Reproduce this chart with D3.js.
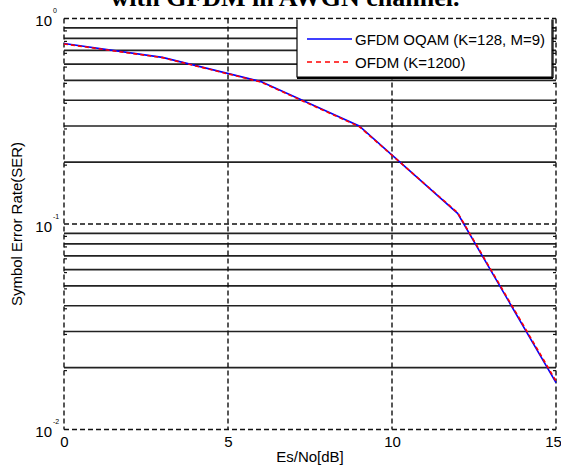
<!DOCTYPE html>
<html>
<head>
<meta charset="utf-8">
<script src="https://cdn.jsdelivr.net/npm/d3@7/dist/d3.min.js"></script>
<style>
  html, body { margin: 0; padding: 0; background: #fff; }
  svg { display: block; }
  text { font-family: "Liberation Sans", Arial, sans-serif; fill: #000; }
</style>
</head>
<body>
<svg id="chart" width="561" height="468"></svg>
<script>
// SNR points (dB) and symbol error rates for both schemes
const snrDb = [0, 3, 6, 9, 12, 15];
const serGfdm = [0.755, 0.647, 0.493, 0.300, 0.1127, 0.0169];
const serOfdm = [0.752, 0.645, 0.491, 0.298, 0.1135, 0.0172];
const seriesNames = ["GFDM OQAM (K=128, M=9)", "OFDM (K=1200)"];
const xTickValues = [0, 5, 10, 15];
const yDecades = [1, 0.1, 0.01];
const yDecadeExponents = ["0", "-1", "-2"];
const yMinorValues = [0.02, 0.03, 0.04, 0.05, 0.06, 0.07, 0.08, 0.09,
                      0.2, 0.3, 0.4, 0.5, 0.6, 0.7, 0.8, 0.9];

const svg = d3.select("#chart");
const plotLeft = 64, plotRight = 556, plotTop = 18.5, plotBottom = 429.5;

const x = d3.scaleLinear().domain([0, 15]).range([plotLeft, plotRight]);
const y = d3.scaleLog().domain([0.01, 1]).range([plotBottom, plotTop]);

const gridColor = "#111";
const dash = "5,3";

// title line (runs off the top edge of the canvas)
svg.append("text")
  .attr("x", 285).attr("y", 6)
  .attr("text-anchor", "middle")
  .style("font-family", "'Liberation Serif', 'Times New Roman', serif")
  .style("font-weight", "bold")
  .style("font-size", "26px")
  .text("with GFDM in AWGN channel.");

// minor horizontal grid (solid)
svg.append("g").selectAll("line").data(yMinorValues).join("line")
  .attr("x1", plotLeft).attr("x2", plotRight)
  .attr("y1", d => y(d)).attr("y2", d => y(d))
  .attr("stroke", "#222").attr("stroke-width", 1.6);

// major horizontal grid (dashed), includes top and bottom frame
svg.append("g").selectAll("line").data(yDecades).join("line")
  .attr("x1", plotLeft).attr("x2", plotRight)
  .attr("y1", d => y(d)).attr("y2", d => y(d))
  .attr("stroke", gridColor).attr("stroke-width", 1.4)
  .attr("stroke-dasharray", dash);

// vertical grid (dashed), includes left and right frame
svg.append("g").selectAll("line").data(xTickValues).join("line")
  .attr("x1", d => x(d)).attr("x2", d => x(d))
  .attr("y1", plotTop).attr("y2", plotBottom)
  .attr("stroke", gridColor).attr("stroke-width", 1.4)
  .attr("stroke-dasharray", dash);

// inward tick marks on left/right for minor values
const tickG = svg.append("g").attr("stroke", "#111").attr("stroke-width", 1.2);
tickG.selectAll(".ml").data(yMinorValues).join("line").attr("class", "ml")
  .attr("x1", plotLeft).attr("x2", plotLeft + 3)
  .attr("y1", d => y(d) + 3).attr("y2", d => y(d) + 3);
tickG.selectAll(".mr").data(yMinorValues).join("line").attr("class", "mr")
  .attr("x1", plotRight).attr("x2", plotRight - 3)
  .attr("y1", d => y(d) + 3).attr("y2", d => y(d) + 3);

// x-axis tick labels
const xAxis = d3.axisBottom(x).tickValues(xTickValues).tickSize(0).tickPadding(0)
  .tickFormat(d3.format("d"));
const xg = svg.append("g").attr("transform", `translate(0,${plotBottom})`).call(xAxis);
xg.select(".domain").remove();
xg.selectAll("text")
  .attr("y", 17.5).attr("dy", null)
  .attr("dx", d => d === 15 ? -3 : 0)
  .style("font-family", "'Liberation Sans', Arial, sans-serif")
  .style("font-size", "15px").attr("fill", "#000");

// y-axis decade labels as 10 with superscript exponent
const yAxis = d3.axisLeft(y).tickValues(yDecades).tickSize(0).tickPadding(0)
  .tickFormat(() => "");
const yg = svg.append("g").attr("transform", `translate(${plotLeft},0)`).call(yAxis);
yg.select(".domain").remove();
yg.selectAll(".tick").each(function(d, i) {
  const t = d3.select(this).select("text");
  t.attr("x", -12).attr("dy", null).attr("y", 7)
    .attr("text-anchor", "end")
    .style("font-family", "'Liberation Sans', Arial, sans-serif")
    .style("font-size", "15px").attr("fill", "#000");
  t.append("tspan").text("10");
  d3.select(this).append("text")
    .attr("x", -11).attr("y", -6)
    .attr("text-anchor", "start")
    .style("font-family", "'Liberation Sans', Arial, sans-serif")
    .style("font-size", "7px").attr("fill", "#000")
    .text(yDecadeExponents[i]);
});

// axis titles
svg.append("text")
  .attr("x", (plotLeft + plotRight) / 2).attr("y", 462)
  .attr("text-anchor", "middle")
  .style("font-size", "15px")
  .text("Es/No[dB]");
svg.append("text")
  .attr("transform", `translate(22,${(plotTop + plotBottom) / 2}) rotate(-90)`)
  .attr("text-anchor", "middle")
  .style("font-size", "15px")
  .text("Symbol Error Rate(SER)");

// curves
const line = d3.line().x((d, i) => x(snrDb[i])).y(d => y(d));
svg.append("path").datum(serGfdm)
  .attr("d", line).attr("fill", "none")
  .attr("stroke", "#0000ff").attr("stroke-width", 1.6);
svg.append("path").datum(serOfdm)
  .attr("d", line).attr("fill", "none")
  .attr("stroke", "#ff0000").attr("stroke-width", 1.6)
  .attr("stroke-dasharray", "4,3");

// legend box
const lg = svg.append("g");
const lx0 = 297, lx1 = 552, ly0 = plotTop, ly1 = 77;
lg.append("rect")
  .attr("x", lx0).attr("y", ly0 + 1)
  .attr("width", lx1 - lx0).attr("height", ly1 - ly0 - 1)
  .attr("fill", "#fff");
lg.append("path")
  .attr("d", `M${lx0},${ly0 + 1}V${ly1}H${lx1}V${ly0 + 1}`)
  .attr("fill", "none").attr("stroke", "#000").attr("stroke-width", 1.2);
lg.append("line")
  .attr("x1", lx0).attr("x2", lx1 + 1)
  .attr("y1", ly1 + 1).attr("y2", ly1 + 1)
  .attr("stroke", "#000").attr("stroke-width", 2);
lg.append("line")
  .attr("x1", lx1 + 1).attr("x2", lx1 + 1)
  .attr("y1", ly0 + 1).attr("y2", ly1 + 1)
  .attr("stroke", "#000").attr("stroke-width", 1.2);

const legendRows = [
  { name: seriesNames[0], color: "#0000ff", dash: null, yy: 39 },
  { name: seriesNames[1], color: "#ff0000", dash: "5,4", yy: 62 }
];
legendRows.forEach(r => {
  lg.append("line")
    .attr("x1", 307).attr("x2", 352)
    .attr("y1", r.yy).attr("y2", r.yy)
    .attr("stroke", r.color).attr("stroke-width", 1.4)
    .attr("stroke-dasharray", r.dash);
  lg.append("text")
    .attr("x", 355).attr("y", r.yy + 5.5)
    .style("font-size", "15px")
    .text(r.name);
});
</script>
</body>
</html>
